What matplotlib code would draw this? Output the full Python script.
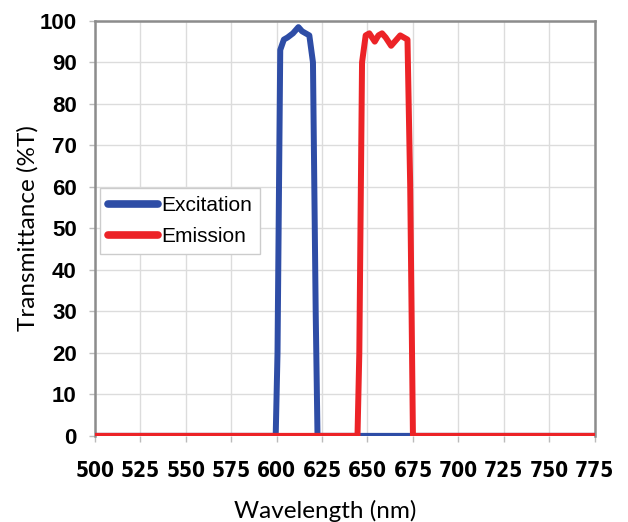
import matplotlib

matplotlib.use("Agg")
import matplotlib.pyplot as plt

# excitation filter (blue)
ex_wl = [500, 599.5, 600.5, 602, 604, 606, 609, 612, 614, 616, 618, 620, 621.5, 622.5, 775]
ex_t = [0, 0, 20, 93, 95.5, 96, 97, 98.5, 97.5, 97, 96.5, 90, 30, 0, 0]

# emission filter (red)
em_wl = [500, 644.5, 645.5, 647, 649, 651, 654, 656, 658, 660, 663, 665, 668, 670, 672, 673.5, 675, 775]
em_t = [0, 0, 20, 90, 96.5, 97, 95, 96.5, 97, 96, 94, 95, 96.5, 96, 95.5, 60, 0, 0]

x_ticks = list(range(500, 776, 25))
y_ticks = list(range(0, 101, 10))

fig = plt.figure(figsize=(6.28, 5.22), dpi=100)
ax = fig.add_axes([0.151, 0.165, 0.796, 0.795])

ax.plot(ex_wl, ex_t, color="#2E4DA6", lw=4.3, solid_joinstyle="round", solid_capstyle="round", label="Excitation", zorder=3)
ax.plot(em_wl, em_t, color="#EC2327", lw=4.3, solid_joinstyle="round", solid_capstyle="round", label="Emission", zorder=4)

ax.set_xlim(500, 775)
ax.set_ylim(0, 100)
ax.set_xticks(x_ticks)
ax.set_yticks(y_ticks)
ax.grid(True, color="#dcdcdc", lw=1)
ax.set_axisbelow(True)

for side in ["top", "right", "left"]:
    ax.spines[side].set_color("#8c8c8c")
    ax.spines[side].set_linewidth(1.8)
ax.spines["bottom"].set_visible(False)
ax.tick_params(axis="both", color="#bbbbbb", length=4, width=1)
ax.tick_params(axis="x", pad=14)
ax.tick_params(axis="y", pad=9)

for lab in ax.get_xticklabels():
    lab.set_family(["Liberation Sans Narrow", "DejaVu Sans"])
    lab.set_fontstretch("condensed")
    lab.set_fontweight("bold")
    lab.set_fontsize(15)
for lab in ax.get_yticklabels():
    lab.set_family("Liberation Sans")
    lab.set_fontweight("bold")
    lab.set_fontsize(16)

ax.set_xlabel("Wavelength (nm)", family="Lato", fontsize=17.5)
ax.xaxis.set_label_coords(0.46, -0.155)
ax.set_ylabel("Transmittance (%T)", family="Lato", fontsize=17.5)
ax.yaxis.set_label_coords(-0.112, 0.5)

leg = ax.legend(loc="upper left", bbox_to_anchor=(0.01, 0.597), prop={"family": "Liberation Sans", "size": 15},
                fancybox=False, edgecolor="#cccccc", handlelength=2.4, handletextpad=0.15,
                borderpad=0.4, borderaxespad=0, labelspacing=0.55, framealpha=1)
leg.get_frame().set_linewidth(1)
for line in leg.get_lines():
    line.set_linewidth(5.5)

fig.savefig("out.png", dpi=100)
